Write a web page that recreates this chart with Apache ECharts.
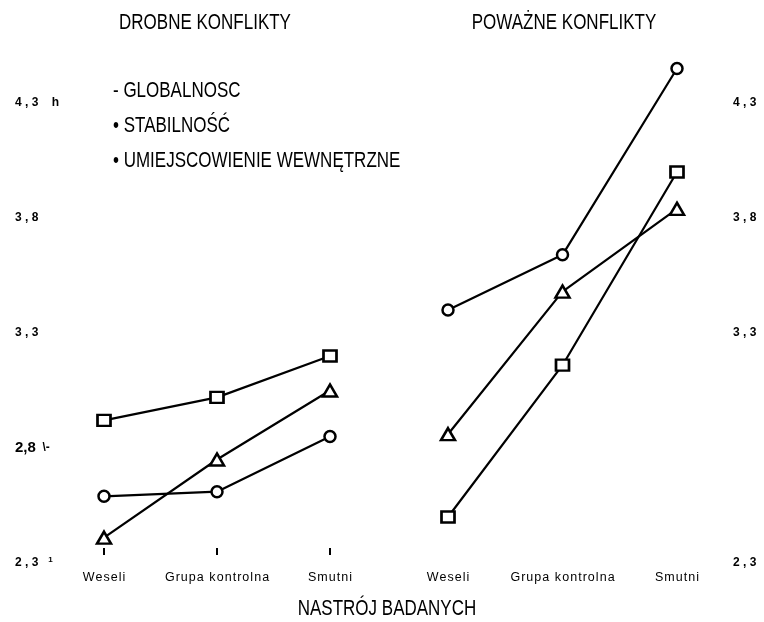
<!DOCTYPE html>
<html><head><meta charset="utf-8">
<script src="https://cdn.jsdelivr.net/npm/echarts@6/dist/echarts.min.js"></script>
<style>html,body{margin:0;padding:0;background:#fff}#c{width:764px;height:622px}</style>
</head><body><div id="c"></div>
<script>
const categories = ['Weseli', 'Grupa kontrolna', 'Smutni'];
const seriesNames = ['GLOBALNOSC', 'STABILNOŚĆ', 'UMIEJSCOWIENIE WEWNĘTRZNE'];
// DROBNE KONFLIKTY
const minorGlobal = [2.59, 2.61, 2.85];
const minorStab = [2.92, 3.02, 3.20];
const minorLocus = [2.41, 2.75, 3.05];
// POWAŻNE KONFLIKTY
const majorGlobal = [3.40, 3.64, 4.45];
const majorStab = [2.50, 3.16, 4.00];
const majorLocus = [2.86, 3.48, 3.84];
const leftTicks = [2.3, 2.8, 3.3, 3.8, 4.3];
const leftTickLabels = {2.3: '2 , 3', 2.8: '2,8', 3.3: '3 , 3', 3.8: '3 , 8', 4.3: '4 , 3'};
const rightTicks = [2.3, 3.3, 3.8, 4.3];
const rightTickLabels = {2.3: '2 , 3', 3.3: '3 , 3', 3.8: '3 , 8', 4.3: '4 , 3'};

const chart = echarts.init(document.getElementById('c'));
const FONT = 'Liberation Sans, Arial, sans-serif';
const NARROW = '"Liberation Sans Narrow", "Liberation Sans", Arial, sans-serif';
const symbolFor = { g: 'circle', s: 'rect', l: 'triangle' };
const sizeFor = { g: [11, 11], s: [13, 11], l: [14, 12] };
function mk(name, data, key, idx) {
  return {
    name: name, type: 'line', data: data, xAxisIndex: idx, yAxisIndex: idx,
    symbol: symbolFor[key], symbolSize: sizeFor[key], showAllSymbol: true,
    lineStyle: { color: '#000', width: 2.2 },
    itemStyle: { color: '#fff', borderColor: '#000', borderWidth: 2.5 },
    clip: false, animation: false, z: 3
  };
}
function txt(x, y, text, align) {
  return { type: 'text', x: x, y: y, scaleY: 1.28,
    style: { text: text, fill: '#000', font: '17px ' + NARROW, align: align, verticalAlign: 'middle' } };
}
const hs = v => v.split('').join('\u200A');
const extraLeft = {2.3: '   {sm|1}', 2.8: '  {b|\\-}', 4.3: '    {b|h}'};
chart.setOption({
  backgroundColor: '#fff',
  animation: false,
  grid: [
    { left: 104, right: 434, top: 57, bottom: 59 },
    { left: 448, right: 87, top: 57, bottom: 59 }
  ],
  xAxis: [
    { type: 'category', data: categories, gridIndex: 0, boundaryGap: false, offset: -8,
      axisLine: { show: false },
      axisTick: { show: true, inside: true, length: 7, alignWithLabel: true, lineStyle: { color: '#000', width: 2 } },
      axisLabel: { margin: 16, color: '#000', fontFamily: FONT, fontSize: 12.5, interval: 0, formatter: hs } },
    { type: 'category', data: categories, gridIndex: 1, boundaryGap: false, offset: -8,
      axisLine: { show: false }, axisTick: { show: false },
      axisLabel: { margin: 16, color: '#000', fontFamily: FONT, fontSize: 12.5, interval: 0, formatter: hs } }
  ],
  yAxis: [
    { type: 'value', gridIndex: 0, min: 2.3, max: 4.5, position: 'left',
      axisLine: { show: false }, axisTick: { show: false }, splitLine: { show: false },
      axisLabel: { customValues: leftTicks, align: 'left', margin: 89, color: '#000',
        fontFamily: FONT, fontSize: 12, fontWeight: 'bold',
        formatter: v => { const k = Math.round(v * 10) / 10; return (k === 2.8 ? '{big|' + leftTickLabels[k] + '}' : leftTickLabels[k]) + (extraLeft[k] || ''); },
        rich: { big: { fontSize: 15, fontWeight: 'bold', fontFamily: FONT }, sm: { fontSize: 8, fontWeight: 'bold', fontFamily: FONT, verticalAlign: 'top', padding: [0,0,6,0] }, b: { fontSize: 12, fontWeight: 'bold', fontFamily: FONT } } } },
    { type: 'value', gridIndex: 1, min: 2.3, max: 4.5, position: 'right',
      axisLine: { show: false }, axisTick: { show: false }, splitLine: { show: false },
      axisLabel: { customValues: rightTicks, align: 'left', margin: 56, color: '#000',
        fontFamily: FONT, fontSize: 12, fontWeight: 'bold',
        formatter: v => rightTickLabels[Math.round(v * 10) / 10] } }
  ],
  graphic: [
    txt(205, 23, 'DROBNE KONFLIKTY', 'center'),
    txt(564, 23, 'POWAŻNE KONFLIKTY', 'center'),
    txt(113, 91, '- ' + seriesNames[0], 'left'),
    txt(113, 126, '• ' + seriesNames[1], 'left'),
    txt(113, 161, '• ' + seriesNames[2], 'left'),
    txt(387, 609, 'NASTRÓJ BADANYCH', 'center')
  ],
  series: [
    mk(seriesNames[0], minorGlobal, 'g', 0),
    mk(seriesNames[1], minorStab, 's', 0),
    mk(seriesNames[2], minorLocus, 'l', 0),
    mk(seriesNames[0], majorGlobal, 'g', 1),
    mk(seriesNames[1], majorStab, 's', 1),
    mk(seriesNames[2], majorLocus, 'l', 1)
  ]
});
</script></body></html>
